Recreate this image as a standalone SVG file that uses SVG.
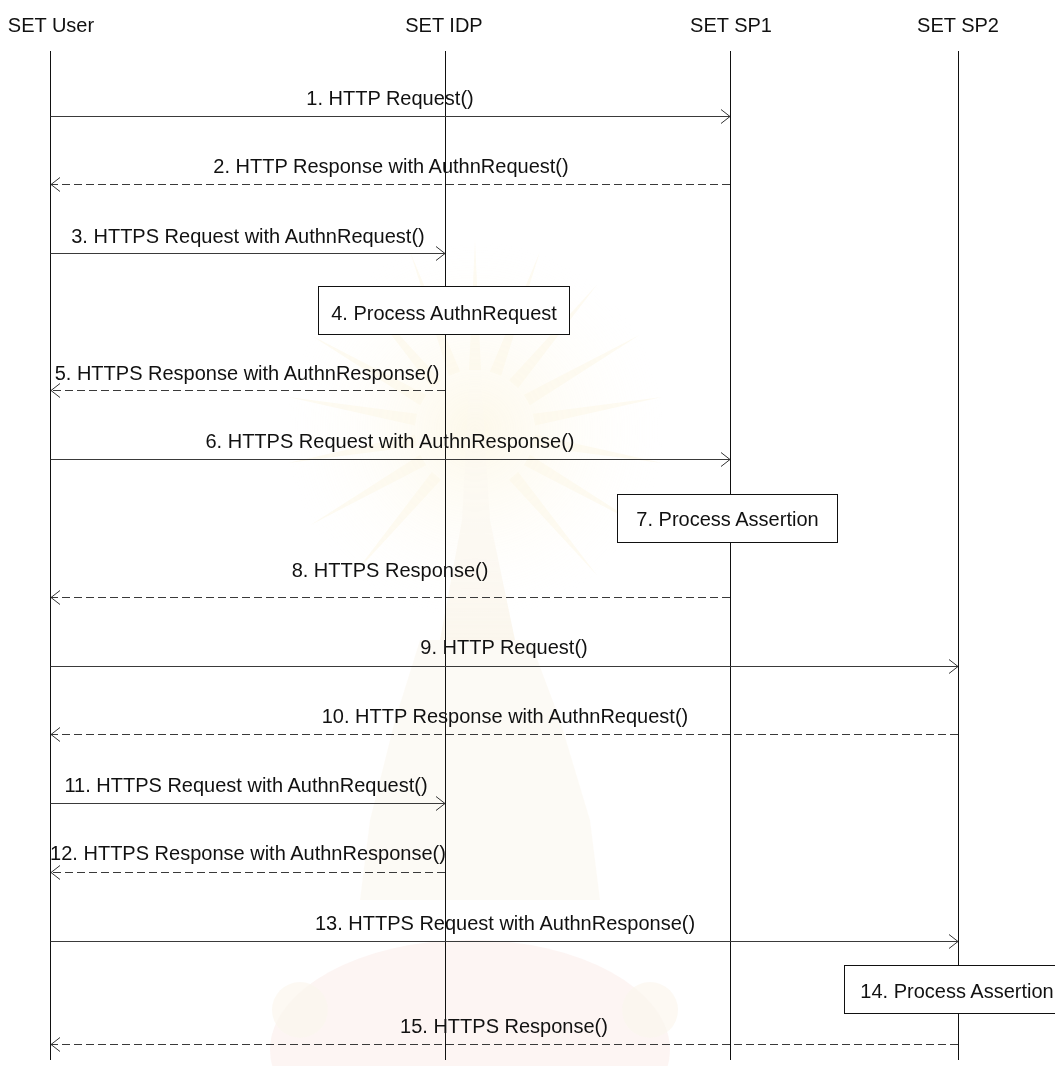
<svg xmlns="http://www.w3.org/2000/svg" width="1055" height="1066" viewBox="0 0 1055 1066">
  <defs>
    <style>
      text { font-family: "Liberation Sans", Arial, sans-serif; font-size: 20px; fill: #111; }
      .mid { text-anchor: middle; }
      .life { stroke: #111; stroke-width: 1; fill: none; }
      .msg { stroke: #3a3a3a; stroke-width: 1; fill: none; marker-end: url(#open); }
      .dash { stroke-dasharray: 8 4; }
      .box { fill: #fff; stroke: #111; stroke-width: 1; }
      .wm { opacity: 0.3; }
    </style>
    <marker id="open" viewBox="-11 -9 13 18" refX="0" refY="0" markerWidth="13" markerHeight="18" markerUnits="userSpaceOnUse" orient="auto">
      <path d="M-9,-7 L0,0 L-9,7" fill="none" stroke="#333" stroke-width="1" stroke-dasharray="none"/>
    </marker>
    <radialGradient id="glow" cx="0.5" cy="0.5" r="0.5">
      <stop offset="0" stop-color="#f8e9b8"/>
      <stop offset="1" stop-color="#fffaf0" stop-opacity="0"/>
    </radialGradient>
    <linearGradient id="spire" x1="0" y1="0" x2="0" y2="1">
      <stop offset="0" stop-color="#f4ead6" stop-opacity="0"/>
      <stop offset="1" stop-color="#f1e2c4"/>
    </linearGradient>
  </defs>

  <rect width="1055" height="1066" fill="#fff"/>

  <!-- faint emblem behind the chart -->
  <g id="emblem" class="wm">
    <circle cx="475" cy="430" r="190" fill="url(#glow)"/>
    <g fill="#f7e7b4" opacity="0.6" transform="translate(475 430)">
      <path d="M-6,-60 L0,-190 L6,-60 Z"/>
      <path d="M-6,-60 L0,-190 L6,-60 Z" transform="rotate(20)"/>
      <path d="M-6,-60 L0,-190 L6,-60 Z" transform="rotate(40)"/>
      <path d="M-6,-60 L0,-190 L6,-60 Z" transform="rotate(60)"/>
      <path d="M-6,-60 L0,-190 L6,-60 Z" transform="rotate(80)"/>
      <path d="M-6,-60 L0,-190 L6,-60 Z" transform="rotate(100)"/>
      <path d="M-6,-60 L0,-190 L6,-60 Z" transform="rotate(120)"/>
      <path d="M-6,-60 L0,-190 L6,-60 Z" transform="rotate(140)"/>
      <path d="M-6,-60 L0,-190 L6,-60 Z" transform="rotate(-20)"/>
      <path d="M-6,-60 L0,-190 L6,-60 Z" transform="rotate(-40)"/>
      <path d="M-6,-60 L0,-190 L6,-60 Z" transform="rotate(-60)"/>
      <path d="M-6,-60 L0,-190 L6,-60 Z" transform="rotate(-80)"/>
      <path d="M-6,-60 L0,-190 L6,-60 Z" transform="rotate(-100)"/>
      <path d="M-6,-60 L0,-190 L6,-60 Z" transform="rotate(-120)"/>
      <path d="M-6,-60 L0,-190 L6,-60 Z" transform="rotate(-140)"/>
    </g>
    <path d="M472,330 L478,330 L490,520 L515,640 L440,640 L462,520 Z" fill="url(#spire)"/>
    <path d="M420,640 L530,640 L560,720 L590,820 L600,900 L360,900 L370,820 L395,720 Z" fill="#f3e6cc" opacity="0.6"/>
    <ellipse cx="470" cy="1050" rx="200" ry="110" fill="#f6d6d0" opacity="0.8"/>
    <circle cx="300" cy="1010" r="28" fill="#f2e2c6" opacity="0.7"/>
    <circle cx="650" cy="1010" r="28" fill="#f2e2c6" opacity="0.7"/>
  </g>

  <!-- participants and their lifelines -->
  <g id="user">
    <text class="mid" x="51" y="32">SET User</text>
    <line class="life" x1="50.5" y1="51" x2="50.5" y2="1060"/>
  </g>
  <g id="idp">
    <text class="mid" x="444" y="32">SET IDP</text>
    <line class="life" x1="445.5" y1="51" x2="445.5" y2="1060"/>
  </g>
  <g id="sp1">
    <text class="mid" x="731" y="32">SET SP1</text>
    <line class="life" x1="730.5" y1="51" x2="730.5" y2="1060"/>
  </g>
  <g id="sp2">
    <text class="mid" x="958" y="32">SET SP2</text>
    <line class="life" x1="958.5" y1="51" x2="958.5" y2="1060"/>
  </g>

  <!-- messages -->
  <g id="connectors">
    <line class="msg" x1="50.5" y1="116.5" x2="730" y2="116.5"/>
    <text class="mid" x="390" y="105">1. HTTP Request()</text>

    <line class="msg dash" x1="730" y1="184.5" x2="51" y2="184.5"/>
    <text class="mid" x="391" y="173">2. HTTP Response with AuthnRequest()</text>

    <line class="msg" x1="50.5" y1="253.5" x2="445" y2="253.5"/>
    <text class="mid" x="248" y="243">3. HTTPS Request with AuthnRequest()</text>

    <line class="msg dash" x1="445" y1="390.5" x2="51" y2="390.5"/>
    <text class="mid" x="247" y="380">5. HTTPS Response with AuthnResponse()</text>

    <line class="msg" x1="50.5" y1="459.5" x2="730" y2="459.5"/>
    <text class="mid" x="390" y="448">6. HTTPS Request with AuthnResponse()</text>

    <line class="msg dash" x1="730" y1="597.5" x2="51" y2="597.5"/>
    <text class="mid" x="390" y="577">8. HTTPS Response()</text>

    <line class="msg" x1="50.5" y1="666.5" x2="958" y2="666.5"/>
    <text class="mid" x="504" y="654">9. HTTP Request()</text>

    <line class="msg dash" x1="958" y1="734.5" x2="51" y2="734.5"/>
    <text class="mid" x="505" y="723">10. HTTP Response with AuthnRequest()</text>

    <line class="msg" x1="50.5" y1="803.5" x2="445" y2="803.5"/>
    <text class="mid" x="246" y="792">11. HTTPS Request with AuthnRequest()</text>

    <line class="msg dash" x1="445" y1="872.5" x2="51" y2="872.5"/>
    <text class="mid" x="248" y="860">12. HTTPS Response with AuthnResponse()</text>

    <line class="msg" x1="50.5" y1="941.5" x2="958" y2="941.5"/>
    <text class="mid" x="505" y="930">13. HTTPS Request with AuthnResponse()</text>

    <line class="msg dash" x1="958" y1="1044.5" x2="51" y2="1044.5"/>
    <text class="mid" x="504" y="1033">15. HTTPS Response()</text>
  </g>

  <!-- processing steps -->
  <g id="step4">
    <rect class="box" x="318.5" y="286.5" width="251" height="48"/>
    <text class="mid" x="444" y="320">4. Process AuthnRequest</text>
  </g>
  <g id="step7">
    <rect class="box" x="617.5" y="494.5" width="220" height="48"/>
    <text class="mid" x="727.5" y="526">7. Process Assertion</text>
  </g>
  <g id="step14">
    <rect class="box" x="844.5" y="965.5" width="228" height="48"/>
    <text class="mid" x="957" y="998">14. Process Assertion</text>
  </g>
</svg>
